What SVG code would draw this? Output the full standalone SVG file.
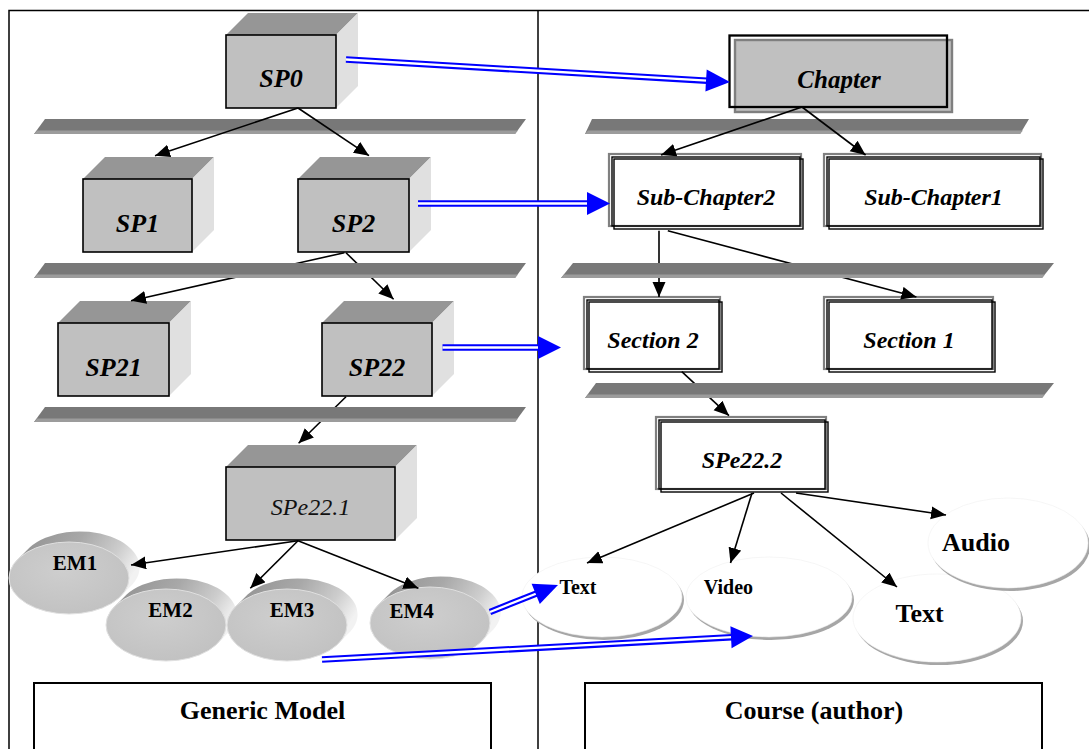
<svg xmlns="http://www.w3.org/2000/svg" width="1089" height="749" viewBox="0 0 1089 749">
  <style>
    .front { fill: #c0c0c0; stroke: #000; stroke-width: 1.6; }
    .top { fill: #969696; }
    .side { fill: #e0e0e0; }
    .bar { fill: #787878; }
    .lip { fill: #9c9c9c; }
    .bi { font-family: "Liberation Serif", "Times New Roman", serif; font-weight: bold; font-style: italic; text-anchor: middle; fill: #000; }
    .it { font-family: "Liberation Serif", "Times New Roman", serif; font-style: italic; text-anchor: middle; fill: #111; }
    .b { font-family: "Liberation Serif", "Times New Roman", serif; font-weight: bold; text-anchor: middle; fill: #000; }
    .conn { stroke: #000; stroke-width: 1.6; fill: none; marker-end: url(#ah); }
    .blue { stroke: #0000ff; stroke-width: 6.5; fill: none; }
    .gap { stroke: #fff; stroke-width: 2.3; fill: none; }
    .bhead { fill: #0000ff; }
    .rim { fill: url(#rimGrad); }
    .face { fill: url(#faceGrad); stroke: #e0e0e0; stroke-width: 1; }
    .shadow { fill: #a6a6a6; }
    .cloud { fill: #fff; stroke: #f0f0f0; stroke-width: 0.6; }
    .g2 { fill: #fff; stroke: #808080; stroke-width: 2.2; }
    .k1 { fill: none; stroke: #000; stroke-width: 1.4; }
    .caption { fill: #fff; stroke: #000; stroke-width: 2; }
  </style>
  <defs>
    <marker id="ah" markerUnits="userSpaceOnUse" markerWidth="17" markerHeight="14" refX="15" refY="6.5" orient="auto">
      <path d="M0,0 L15,6.5 L0,13 Z" fill="#000"/>
    </marker>
    <linearGradient id="rimGrad" x1="0" y1="0" x2="1" y2="0.4">
      <stop offset="0" stop-color="#8c8c8c"/>
      <stop offset="0.5" stop-color="#a8a8a8"/>
      <stop offset="0.8" stop-color="#cdcdcd"/>
      <stop offset="1" stop-color="#f2f2f2"/>
    </linearGradient>
    <radialGradient id="faceGrad" cx="0.45" cy="0.4" r="0.6">
      <stop offset="0" stop-color="#cecece"/>
      <stop offset="1" stop-color="#c2c2c2"/>
    </radialGradient>
  </defs>

  <!-- outer frame and column divider -->
  <rect x="9" y="10.5" width="1100" height="760" fill="#fff" stroke="#000" stroke-width="1.5"/>
  <line x1="538" y1="10" x2="538" y2="749" stroke="#000" stroke-width="1.5"/>

  <!-- level bars (first row sits under the connectors) -->
  <g id="bar-l1">
    <polygon class="bar" points="45,119 526,119 515,134 34,134"/>
    <polygon class="lip" points="37.3,130.5 518,130.5 515,134 34,134"/>
  </g>
  <g id="bar-r1">
    <polygon class="bar" points="592,119 1029,119 1020,134 585,134"/>
    <polygon class="lip" points="588,130.5 1023,130.5 1020,134 585,134"/>
  </g>

  <!-- left column: generic model -->
  <g id="sp0">
    <polygon class="top" points="226,35 248,13 358,13 336,35"/>
    <polygon class="side" points="336,35 358,13 358,86 336,108"/>
    <rect class="front" x="226" y="35" width="110" height="73"/>
    <text class="bi" x="281" y="87" font-size="26">SP0</text>
  </g>
  <g id="sp1">
    <polygon class="top" points="83,179 105,157 214,157 192,179"/>
    <polygon class="side" points="192,179 214,157 214,230 192,252"/>
    <rect class="front" x="83" y="179" width="109" height="73"/>
    <text class="bi" x="137.5" y="231.5" font-size="26">SP1</text>
  </g>
  <g id="sp2">
    <polygon class="top" points="298,179 320,157 431,157 409,179"/>
    <polygon class="side" points="409,179 431,157 431,230 409,252"/>
    <rect class="front" x="298" y="179" width="111" height="73"/>
    <text class="bi" x="353.5" y="231.5" font-size="26">SP2</text>
  </g>
  <g id="sp21">
    <polygon class="top" points="58,323 80,301 191,301 169,323"/>
    <polygon class="side" points="169,323 191,301 191,374 169,396"/>
    <rect class="front" x="58" y="323" width="111" height="73"/>
    <text class="bi" x="113.5" y="375.5" font-size="26">SP21</text>
  </g>
  <g id="sp22">
    <polygon class="top" points="322,323 344,301 454,301 432,323"/>
    <polygon class="side" points="432,323 454,301 454,374 432,396"/>
    <rect class="front" x="322" y="323" width="110" height="73"/>
    <text class="bi" x="377" y="375.5" font-size="26">SP22</text>
  </g>
  <g id="spe22-1">
    <polygon class="top" points="226,467 248,445 417,445 395,467"/>
    <polygon class="side" points="395,467 417,445 417,518 395,540"/>
    <rect class="front" x="226" y="467" width="169" height="73"/>
    <text class="it" x="310.5" y="515" font-size="24">SPe22.1</text>
  </g>

  <!-- elementary modules drawn as extruded discs -->
  <g id="em1">
    <path class="rim" d="M17.6,559.5 L29.6,547.5 A60,36 0 0 1 132.4,584.5 L120.4,596.5 A60,36 0 0 1 17.6,559.5 Z"/>
    <ellipse class="face" cx="69" cy="578" rx="60" ry="36"/>
    <text class="b" x="75" y="570" font-size="21">EM1</text>
  </g>
  <g id="em2">
    <path class="rim" d="M114.6,606.5 L126.6,594.5 A60,36 0 0 1 229.4,631.5 L217.4,643.5 A60,36 0 0 1 114.6,606.5 Z"/>
    <ellipse class="face" cx="166" cy="625" rx="60" ry="36"/>
    <text class="b" x="170.5" y="617" font-size="21">EM2</text>
  </g>
  <g id="em3">
    <path class="rim" d="M235.6,606.5 L247.6,594.5 A60,36 0 0 1 350.4,631.5 L338.4,643.5 A60,36 0 0 1 235.6,606.5 Z"/>
    <ellipse class="face" cx="287" cy="625" rx="60" ry="36"/>
    <text class="b" x="292" y="617" font-size="21">EM3</text>
  </g>
  <g id="em4">
    <path class="rim" d="M378.6,604.5 L390.6,592.5 A60,36 0 0 1 493.4,629.5 L481.4,641.5 A60,36 0 0 1 378.6,604.5 Z"/>
    <ellipse class="face" cx="430" cy="623" rx="60" ry="36"/>
    <text class="b" x="411.7" y="618" font-size="21">EM4</text>
  </g>

  <!-- right column: course structure -->
  <g id="chapter">
    <rect x="735" y="40" width="217" height="72" fill="#c0c0c0" stroke="#7f7f7f" stroke-width="2.4"/>
    <rect x="729.5" y="35.5" width="217.5" height="71.5" fill="none" stroke="#000" stroke-width="2.3"/>
    <text class="bi" x="839" y="88" font-size="25">Chapter</text>
  </g>
  <g id="sub-chapter2">
    <rect class="g2" x="609" y="154" width="192" height="72"/>
    <rect class="k1" x="612" y="157" width="188" height="69"/>
    <rect class="k1" x="614" y="159" width="189" height="70"/>
    <text class="bi" x="706" y="205" font-size="24">Sub-Chapter2</text>
  </g>
  <g id="sub-chapter1">
    <rect class="g2" x="824" y="154" width="217" height="72"/>
    <rect class="k1" x="827" y="157" width="213" height="69"/>
    <rect class="k1" x="829" y="159" width="214" height="70"/>
    <text class="bi" x="933.5" y="205" font-size="24">Sub-Chapter1</text>
  </g>
  <g id="section2">
    <rect class="g2" x="584" y="297" width="136" height="72"/>
    <rect class="k1" x="587" y="300" width="132" height="69"/>
    <rect class="k1" x="589" y="302" width="133" height="70"/>
    <text class="bi" x="653" y="348" font-size="24">Section 2</text>
  </g>
  <g id="section1">
    <rect class="g2" x="824" y="297" width="169" height="72"/>
    <rect class="k1" x="827" y="300" width="165" height="69"/>
    <rect class="k1" x="829" y="302" width="166" height="70"/>
    <text class="bi" x="909" y="348" font-size="24">Section 1</text>
  </g>
  <g id="spe22-2">
    <rect class="g2" x="656" y="417" width="170" height="72"/>
    <rect class="k1" x="659" y="420" width="166" height="69"/>
    <rect class="k1" x="661" y="422" width="167" height="70"/>
    <text class="bi" x="742" y="468" font-size="24">SPe22.2</text>
  </g>

  <!-- media elements -->
  <g id="text-a">
    <ellipse class="shadow" cx="604" cy="600" rx="80" ry="40"/>
    <ellipse class="cloud" cx="602" cy="597" rx="80" ry="40"/>
    <text class="b" x="578" y="594" font-size="20">Text</text>
  </g>
  <g id="text-b">
    <ellipse class="shadow" cx="939" cy="621" rx="84" ry="44"/>
    <ellipse class="cloud" cx="937" cy="618" rx="84" ry="44"/>
    <text class="b" x="919.5" y="622" font-size="26">Text</text>
  </g>
  <g id="video">
    <ellipse class="shadow" cx="771" cy="600" rx="83" ry="40"/>
    <ellipse class="cloud" cx="769" cy="597" rx="83" ry="40"/>
    <text class="b" x="728.5" y="594" font-size="20">Video</text>
  </g>
  <g id="audio">
    <ellipse class="shadow" cx="1010" cy="546" rx="80" ry="45"/>
    <ellipse class="cloud" cx="1008" cy="543" rx="80" ry="45"/>
    <text class="b" x="976" y="551" font-size="26">Audio</text>
  </g>

  <!-- captions -->
  <g id="generic-model">
    <rect class="caption" x="34" y="683" width="457" height="90"/>
    <text class="b" x="262.5" y="719" font-size="26">Generic Model</text>
  </g>
  <g id="course-author">
    <rect class="caption" x="585" y="683" width="457" height="90"/>
    <text class="b" x="814" y="719" font-size="26">Course (author)</text>
  </g>

  <!-- connectors -->
  <g id="connectors">
    <line class="conn" x1="298" y1="108" x2="155" y2="155.7"/>
    <line class="conn" x1="298" y1="108" x2="369" y2="155.7"/>
    <line class="conn" x1="344.4" y1="252.7" x2="131" y2="300.7"/>
    <line class="conn" x1="346" y1="252.7" x2="393.6" y2="299.3"/>
    <line class="conn" x1="346" y1="396.7" x2="298.6" y2="443.3"/>
    <line class="conn" x1="298" y1="540.7" x2="131" y2="565"/>
    <line class="conn" x1="298" y1="540.7" x2="250.3" y2="588.3"/>
    <line class="conn" x1="298" y1="540.7" x2="418.4" y2="588.3"/>

    <line class="conn" x1="802" y1="107" x2="661" y2="155"/>
    <line class="conn" x1="802" y1="107" x2="865.6" y2="155"/>
    <line class="conn" x1="659" y1="230.7" x2="659" y2="297"/>
    <line class="conn" x1="667.8" y1="230.7" x2="916.4" y2="297"/>
    <line class="conn" x1="681.8" y1="371.7" x2="729" y2="415.7"/>
    <line class="conn" x1="754" y1="493" x2="587" y2="563"/>
    <line class="conn" x1="752" y1="493" x2="730.5" y2="563"/>
    <line class="conn" x1="781" y1="493" x2="897" y2="587"/>
    <line class="conn" x1="796" y1="493" x2="946" y2="515"/>

    <!-- double-line mapping arrows -->
    <g id="map-sp0-chapter">
      <line class="blue" x1="346" y1="59.5" x2="707" y2="80.7"/>
      <line class="gap" x1="346" y1="59.5" x2="707" y2="80.7"/>
      <polygon class="bhead" points="730,82 705.4,91.6 706.7,69.6"/>
    </g>
    <g id="map-sp2-subchapter2">
      <line class="blue" x1="418" y1="203.5" x2="588" y2="203.5"/>
      <line class="gap" x1="418" y1="203.5" x2="588" y2="203.5"/>
      <polygon class="bhead" points="610,203.5 587,215 587,192"/>
    </g>
    <g id="map-sp22-section2">
      <line class="blue" x1="442.5" y1="347.5" x2="539" y2="347.5"/>
      <line class="gap" x1="442.5" y1="347.5" x2="539" y2="347.5"/>
      <polygon class="bhead" points="561,347.5 538,359 538,336"/>
    </g>
    <g id="map-em4-text">
      <line class="blue" x1="490" y1="612" x2="536.5" y2="593.5"/>
      <line class="gap" x1="490" y1="612" x2="536.5" y2="593.5"/>
      <polygon class="bhead" points="558,585 539.8,604.1 531.6,583.7"/>
    </g>
    <g id="map-em-video">
      <line class="blue" x1="322" y1="659.5" x2="732" y2="637.2"/>
      <line class="gap" x1="322" y1="659.5" x2="732" y2="637.2"/>
      <polygon class="bhead" points="753,636 731.6,648.2 730.4,626.2"/>
    </g>
  </g>

  <!-- lower level bars sit over the connectors -->
  <g id="bar-l2">
    <polygon class="bar" points="45,263 526,263 515,278 34,278"/>
    <polygon class="lip" points="37.3,274.5 518,274.5 515,278 34,278"/>
  </g>
  <g id="bar-l3">
    <polygon class="bar" points="45,407 526,407 515,422 34,422"/>
    <polygon class="lip" points="37.3,418.5 518,418.5 515,422 34,422"/>
  </g>
  <g id="bar-r2">
    <polygon class="bar" points="573,263 1054,263 1042,278 561,278"/>
    <polygon class="lip" points="564,274.5 1045,274.5 1042,278 561,278"/>
  </g>
  <g id="bar-r3">
    <polygon class="bar" points="596,383 1054,383 1042,398 585,398"/>
    <polygon class="lip" points="588,394.5 1045,394.5 1042,398 585,398"/>
  </g>
</svg>
